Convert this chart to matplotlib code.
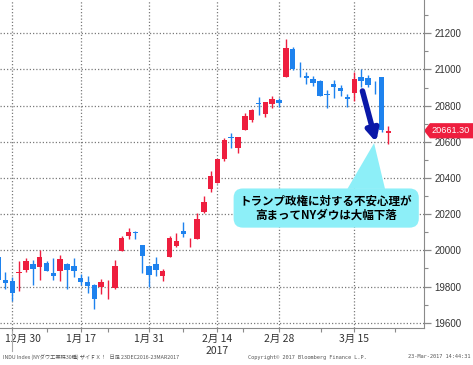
"""
NY Dow daily candles (Dec 2016 - Mar 2017), Bloomberg style with a callout.
"""
import matplotlib
matplotlib.use("Agg")
import matplotlib.pyplot as plt
import matplotlib.transforms as mtransforms
from matplotlib.patches import Polygon

plt.rcParams["font.family"] = ["Noto Sans CJK JP", "DejaVu Sans"]

# Daily OHLC (trading days Dec 28 2016 .. Mar 22 2017)
dates = ["12/28", "12/29", "12/30", "1/3", "1/4", "1/5", "1/6",
         "1/9", "1/10", "1/11", "1/12", "1/13", "1/17", "1/18", "1/19", "1/20",
         "1/23", "1/24", "1/25", "1/26", "1/27", "1/30", "1/31",
         "2/1", "2/2", "2/3", "2/6", "2/7", "2/8", "2/9", "2/10",
         "2/13", "2/14", "2/15", "2/16", "2/17", "2/21", "2/22", "2/23", "2/24",
         "2/27", "2/28", "3/1", "3/2", "3/3", "3/6", "3/7", "3/8", "3/9", "3/10",
         "3/13", "3/14", "3/15", "3/16", "3/17", "3/20", "3/21", "3/22"]
opens = [19964, 19835, 19833, 19873, 19891, 19925, 19907,
         19931, 19876, 19887, 19926, 19913, 19848, 19828, 19811, 19795,
         19795, 19793, 19994, 20077, 20102, 20029, 19914,
         19924, 19858, 19964, 20026, 20107, 20050, 20062, 20211,
         20339, 20374, 20504, 20627, 20564, 20663, 20723, 20815, 20756,
         20808, 20830, 20957, 21112, 21010, 20965, 20950, 20937, 20862, 20918,
         20900, 20847, 20872, 20958, 20952, 20909, 20958, 20648]
highs = [19981, 19878, 19853, 19939, 19956, 19949, 20000,
         19944, 19957, 19973, 19929, 19957, 19871, 19860, 19815, 19844,
         19834, 19949, 20082, 20126, 20108, 20029, 19914,
         19966, 19899, 20081, 20095, 20155, 20069, 20206, 20298,
         20441, 20504, 20620, 20648, 20624, 20758, 20782, 20848, 20822,
         20855, 20840, 21169, 21124, 21041, 20986, 20962, 20943, 20888, 20942,
         20914, 20863, 20984, 21000, 20971, 20938, 20961, 20685]
lows = [19827, 19789, 19719, 19776, 19879, 19811, 19834,
        19887, 19836, 19833, 19784, 19853, 19809, 19766, 19678, 19759,
        19732, 19787, 19994, 20065, 20063, 19875, 19800,
        19861, 19831, 19964, 20021, 20075, 20016, 20062, 20205,
        20323, 20374, 20496, 20566, 20538, 20663, 20711, 20748, 20738,
        20787, 20790, 20957, 20999, 20958, 20919, 20906, 20852, 20788, 20842,
        20853, 20790, 20826, 20904, 20903, 20867, 20657, 20590]
closes = [19834, 19820, 19763, 19882, 19942, 19899, 19964,
          19887, 19856, 19954, 19891, 19886, 19827, 19805, 19732, 19827,
          19800, 19913, 20069, 20101, 20094, 19971, 19864,
          19891, 19885, 20071, 20052, 20090, 20054, 20172, 20269,
          20412, 20504, 20612, 20620, 20624, 20743, 20776, 20810, 20822,
          20837, 20812, 21116, 21003, 21006, 20954, 20925, 20856, 20858, 20903,
          20881, 20837, 20950, 20935, 20915, 20906, 20668, 20661.30]

date_ticks = [2, 12, 22, 32, 41, 52]
date_labels = ["12月 30", "1月 17", "1月 31", "2月 14", "2月 28", "3月 15"]
minor_date_ticks = [7, 16, 27, 35.8, 47.2, 58]
last_price = 20661.30

UP = "#EE1E3E"
DOWN = "#1E82EE"
GRID = "#7a7a7a"
AXIS = "#8a8a8a"
CYAN = "#8DEFF8"

fig = plt.figure(figsize=(4.73, 3.65), dpi=100)
ax = fig.add_axes([0.0, 37 / 365, 424 / 473, 328 / 365])

idx = list(range(len(dates)))
colors = [UP if c >= o else DOWN for o, c in zip(opens, closes)]
bottoms = [min(o, c) for o, c in zip(opens, closes)]
heights = [max(abs(c - o), 4) for o, c in zip(opens, closes)]

ax.vlines(idx, lows, highs, colors=colors, linewidth=1.0, zorder=3)
ax.bar(idx, heights, bottom=bottoms, width=0.8, color=colors, linewidth=0, zorder=4)

ax.set_xlim(0.2, 62.2)
ax.set_ylim(19571, 21384)

# grid + axes styling
ax.set_yticks(range(19600, 21201, 200))
ax.set_yticks(range(19600, 21301, 100), minor=True)
ax.yaxis.tick_right()
ax.grid(True, which="major", color=GRID, linestyle=(0, (1, 1.6)), linewidth=0.9)
ax.set_axisbelow(True)
ax.tick_params(axis="y", which="major", length=5, width=0.9, color=AXIS, pad=2.5,
               labelsize=7, labelcolor="#333333")
ax.tick_params(axis="y", which="minor", length=3, width=0.8, color=AXIS)
for lab in ax.get_yticklabels():
    lab.set_family("Liberation Sans")

ax.set_xticks(date_ticks)
ax.set_xticklabels(date_labels)
ax.set_xticks(minor_date_ticks, minor=True)
ax.tick_params(axis="x", which="major", length=3, width=0.8, color=AXIS, pad=1,
               labelsize=7.5, labelcolor="#333333")
ax.tick_params(axis="x", which="minor", length=3, width=0.8, color=AXIS)
first = ax.get_xticklabels()[0]
first.set_ha("left")
first.set_transform(first.get_transform() +
                    mtransforms.ScaledTranslation(-7 / 100, 0, fig.dpi_scale_trans))

for side in ["top", "left"]:
    ax.spines[side].set_visible(False)
ax.spines["right"].set_color(AXIS)
ax.spines["bottom"].set_color(AXIS)

xblend = mtransforms.blended_transform_factory(ax.transData, ax.transAxes)
ax.text(32, -0.055, "2017", transform=xblend, ha="center", va="top",
        fontsize=7.5, color="#333333")
ax.plot([2, 2], [-0.01, -0.07], transform=xblend, color="#aaaaaa",
        linewidth=0.8, clip_on=False)

# last price tag
yblend = mtransforms.blended_transform_factory(ax.transAxes, ax.transData)
half = 42
ax.add_patch(Polygon([[1.0, last_price], [1.014, last_price + half],
                      [1.2, last_price + half], [1.2, last_price - half],
                      [1.014, last_price - half]],
                     closed=True, transform=yblend, fc=UP, ec="none", clip_on=False))
ax.text(1.0175, last_price, f"{last_price:.2f}", transform=yblend, ha="left",
        va="center", fontsize=6.6, color="white", family="Liberation Sans")

# callout: pointer triangle, box and arrow
ax.add_patch(Polygon([[54.9, 20593], [51.0, 20340], [56.5, 20340]],
                     closed=True, fc=CYAN, ec="none", zorder=5))
ax.text(47.9, 20234, "トランプ政権に対する不安心理が\n高まってNYダウは大幅下落",
        ha="center", va="center", fontsize=8.3, fontweight="bold",
        linespacing=1.05, color="black", zorder=6,
        bbox=dict(boxstyle="round,pad=0.55,rounding_size=0.8",
                  fc=CYAN, ec="none"))
ax.annotate("", xy=(55.2, 20598), xytext=(53.2, 20881),
            arrowprops=dict(arrowstyle="-|>,head_width=0.35,head_length=0.7",
                            color="#0A18A8", linewidth=4.0, shrinkA=0, shrinkB=0),
            zorder=7)

# footer
fig.text(3 / 473, 1 - 357 / 365,
         "INDU Index (NYダウ工業株30種) ザイＦＸ！   日足 23DEC2016-23MAR2017",
         fontsize=3.8, color="#555555", va="center")
fig.text(248 / 473, 1 - 357 / 365, "Copyright© 2017 Bloomberg Finance L.P.",
         fontsize=3.8, color="#555555", va="center", family="DejaVu Sans Mono")
fig.text(470 / 473, 1 - 357 / 365, "23-Mar-2017 14:44:31", ha="right",
         fontsize=3.8, color="#555555", va="center", family="DejaVu Sans Mono")

fig.savefig("out.png", dpi=100)
